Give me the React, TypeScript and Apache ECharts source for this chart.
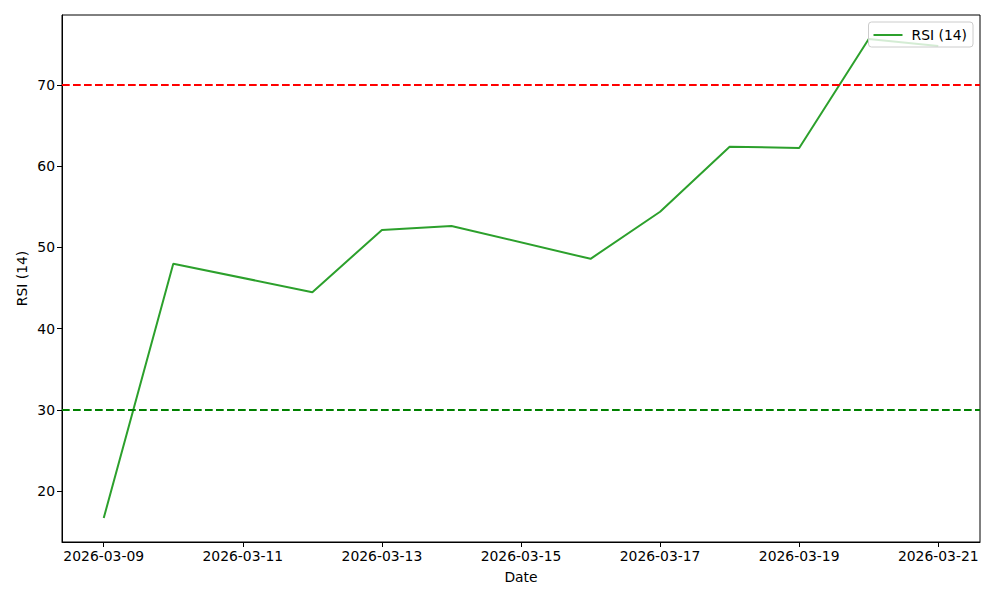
import React, { useEffect, useRef } from "react";
import * as echarts from "echarts";

const dates = [
  "2026-03-09", "2026-03-10", "2026-03-12", "2026-03-13", "2026-03-14",
  "2026-03-16", "2026-03-17", "2026-03-18", "2026-03-19", "2026-03-20", "2026-03-21",
];
const rsiValues = [16.7, 48.0, 44.5, 52.15, 52.65, 48.6, 54.4, 62.4, 62.25, 75.66, 74.8];
const overbought = 70;
const oversold = 30;
const seriesName = "RSI (14)";

const DAY = 86400000;
const baseTs = Date.parse(dates[0] + "T00:00:00Z");
const toOffset = (d: string) => (Date.parse(d + "T00:00:00Z") - baseTs) / DAY;
const fromOffset = (v: number) => new Date(baseTs + v * DAY).toISOString().slice(0, 10);

export default function App() {
  const ref = useRef<HTMLDivElement>(null);
  useEffect(() => {
    if (!ref.current) return;
    const chart = echarts.init(ref.current, null, { renderer: "svg" });
    const xs = dates.map(toOffset);
    const xSpan = xs[xs.length - 1] - xs[0];
    const yMin = Math.min(...rsiValues);
    const yMax = Math.max(...rsiValues);
    const ySpan = yMax - yMin;
    const font = "DejaVu Sans";
    const fs = 13.9;
    chart.setOption({
      animation: false,
      textStyle: { fontFamily: font },
      grid: {
        left: 62, right: 20, top: 15, bottom: 58,
        show: true, borderColor: "#000", borderWidth: 1, backgroundColor: "transparent",
      },
      legend: {
        data: [seriesName],
        right: 27, top: 22,
        padding: [6, 6, 5, 5],
        icon: "rect",
        itemWidth: 29, itemHeight: 2,
        itemGap: 8,
        backgroundColor: "rgba(255,255,255,0.8)",
        borderColor: "#cccccc", borderWidth: 1, borderRadius: 3,
        textStyle: { fontFamily: font, fontSize: fs, color: "#000", padding: [0, 0, 0, 4] },
      },
      xAxis: {
        type: "value",
        min: xs[0] - 0.05 * xSpan,
        max: xs[xs.length - 1] + 0.05 * xSpan,
        splitNumber: 6,
        name: "Date",
        nameLocation: "middle",
        nameGap: 28,
        nameTextStyle: { fontFamily: font, fontSize: fs, color: "#000" },
        axisLine: { show: true, onZero: false, lineStyle: { color: "#000", width: 1 } },
        axisTick: { show: true, length: 5, lineStyle: { color: "#000" } },
        axisLabel: {
          fontFamily: font, fontSize: fs, color: "#000", margin: 7,
          showMinLabel: false, showMaxLabel: false,
          formatter: (v: number) => (Math.abs(v - Math.round(v)) < 1e-6 ? fromOffset(v) : ""),
        },
        splitLine: { show: false },
      },
      yAxis: {
        type: "value",
        min: yMin - 0.05 * ySpan,
        max: yMax + 0.05 * ySpan,
        splitNumber: 6,
        name: seriesName,
        nameLocation: "middle",
        nameGap: 33,
        nameMoveOverlap: false,
        nameTextStyle: { fontFamily: font, fontSize: fs, color: "#000" },
        axisLine: { show: true, onZero: false, lineStyle: { color: "#000", width: 1 } },
        axisTick: { show: true, length: 5, lineStyle: { color: "#000" } },
        axisLabel: {
          fontFamily: font, fontSize: fs, color: "#000", margin: 7,
          showMinLabel: false, showMaxLabel: false,
          formatter: (v: number) => (Math.abs(v / 10 - Math.round(v / 10)) < 1e-6 ? String(v) : ""),
        },
        splitLine: { show: false },
      },
      series: [
        {
          name: seriesName,
          type: "line",
          data: xs.map((x, i) => [x, rsiValues[i]]),
          symbol: "none",
          lineStyle: { color: "#2ca02c", width: 2 },
          itemStyle: { color: "#2ca02c" },
          markLine: {
            silent: true,
            symbol: "none",
            label: { show: false },
            data: [
              { yAxis: overbought, lineStyle: { color: "#ff0000", type: [7.7, 3.3], width: 1.8 } },
              { yAxis: oversold, lineStyle: { color: "#008000", type: [7.7, 3.3], width: 1.8 } },
            ],
          },
        },
      ],
    });
    return () => chart.dispose();
  }, []);
  return (
    <div
      ref={ref}
      style={{ position: "absolute", left: 0, top: 0, width: 1000, height: 600, background: "#fff" }}
    />
  );
}
